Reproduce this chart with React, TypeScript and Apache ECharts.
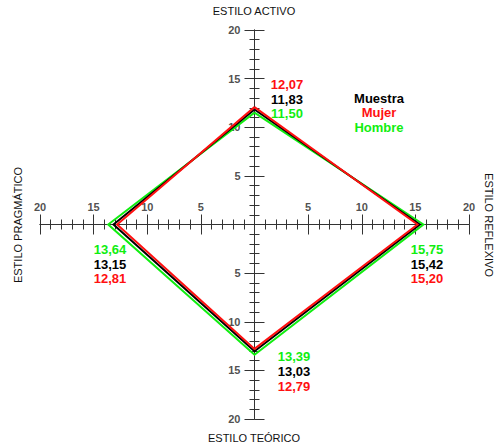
import React, { useEffect, useRef } from "react";
import * as echarts from "echarts";

const axisTitles = ["ESTILO ACTIVO", "ESTILO REFLEXIVO", "ESTILO TEÓRICO", "ESTILO PRAGMÁTICO"];
const seriesNames = ["Muestra", "Mujer", "Hombre"];
const seriesColors = ["#000000", "#ff1010", "#10ee10"];
// values per style: [activo, reflexivo, teórico, pragmático]
const muestra = [11.83, 15.42, 13.03, 13.15];
const mujer = [12.07, 15.2, 12.79, 12.81];
const hombre = [11.5, 15.75, 13.39, 13.64];
const tickLabels = [-20, -15, -10, -5, 5, 10, 15, 20];
const tickMin = -20;
const tickMax = 20;
const tickStep = 5;

const FONT = "'Liberation Sans', Arial, sans-serif";

export default function App() {
  const ref = useRef<HTMLDivElement>(null);
  useEffect(() => {
    if (!ref.current) return;
    const chart = echarts.init(ref.current, null, { renderer: "svg" });
    const values = [muestra, mujer, hombre];
    const fmt = (v: number) => v.toFixed(2).replace(".", ",");
    const toPoints = (v: number[]) => [
      [0, v[0]],
      [v[1], 0],
      [0, -v[2]],
      [-v[3], 0],
      [0, v[0]],
    ];
    const axisColor = "#333";
    const baseAxis = (extra: any) => ({
      type: "value",
      min: tickMin,
      max: tickMax,
      interval: tickStep,
      splitLine: { show: false },
      axisLabel: { show: false },
      axisLine: { show: true, onZero: true, lineStyle: { color: axisColor, width: 1 } },
      axisTick: { show: true, inside: false, length: 10, lineStyle: { color: axisColor, width: 1 } },
      minorTick: { show: true, splitNumber: 5, length: 5, lineStyle: { color: axisColor, width: 1 } },
      ...extra,
    });
    const tickLabelStyle = {
      show: true,
      formatter: (p: any) => String(Math.abs(p.value[0] !== 0 ? p.value[0] : p.value[1])),
      color: "#222",
      fontFamily: FONT,
      fontSize: 11,
      fontWeight: "bold",
    };

    const labelLayout = [
      { x: 287, ys: [84, 99, 113], order: [1, 0, 2] },
      { x: 427, ys: [249, 264, 278], order: [2, 0, 1] },
      { x: 294, ys: [356, 371, 386], order: [2, 0, 1] },
      { x: 110, ys: [249, 264, 278], order: [2, 0, 1] },
    ];
    const valueTexts: any[] = [];
    labelLayout.forEach((col, ai) => {
      col.order.forEach((si, row) => {
        valueTexts.push({
          type: "text",
          x: col.x,
          y: col.ys[row],
          style: {
            text: fmt(values[si][ai]),
            fill: seriesColors[si],
            font: `bold 13px ${FONT}`,
            align: "center",
            verticalAlign: "middle",
          },
        });
      });
    });
    const titleFont = `11px ${FONT}`;
    const titles = [
      { x: 254, y: 11, rotation: 0, text: axisTitles[0] },
      { x: 489, y: 225, rotation: -Math.PI / 2, text: axisTitles[1] },
      { x: 254, y: 438, rotation: 0, text: axisTitles[2] },
      { x: 18, y: 225, rotation: Math.PI / 2, text: axisTitles[3] },
    ].map((t) => ({
      type: "text",
      x: t.x,
      y: t.y,
      rotation: t.rotation,
      style: { text: t.text, fill: "#111", font: titleFont, align: "center", verticalAlign: "middle" },
    }));
    const legendTexts = seriesNames.map((n, i) => ({
      type: "text",
      x: 379,
      y: 98 + i * 14.5,
      style: { text: n, fill: seriesColors[i], font: `bold 13px ${FONT}`, align: "center", verticalAlign: "middle" },
    }));

    const drawOrder = [2, 0, 1];
    chart.setOption({
      animation: false,
      backgroundColor: "#ffffff",
      grid: { left: 40, right: 31, top: 30, bottom: 28, containLabel: false },
      xAxis: [baseAxis({ position: "top" }), baseAxis({ position: "bottom" })],
      yAxis: [baseAxis({ position: "left" }), baseAxis({ position: "right" })],
      series: [
        {
          name: "xTickLabels",
          type: "scatter",
          silent: true,
          symbolSize: 0,
          data: tickLabels.map((v) => [v, 0]),
          label: { ...tickLabelStyle, position: "top", distance: 12 },
          z: 1,
        },
        {
          name: "yTickLabels",
          type: "scatter",
          silent: true,
          symbolSize: 0,
          data: tickLabels.map((v) => [0, v]),
          label: { ...tickLabelStyle, position: "left", distance: 14 },
          z: 1,
        },
        ...drawOrder.map((si) => ({
          name: seriesNames[si],
          type: "line",
          xAxisIndex: 0,
          yAxisIndex: 0,
          data: toPoints(values[si]),
          symbol: "none",
          lineStyle: { color: seriesColors[si], width: 2, join: "miter" },
          itemStyle: { color: seriesColors[si] },
          z: 3,
        })),
      ],
      graphic: [...titles, ...valueTexts, ...legendTexts],
    });
    return () => chart.dispose();
  }, []);
  return <div ref={ref} style={{ position: "absolute", left: 0, top: 0, width: 500, height: 447 }} />;
}
